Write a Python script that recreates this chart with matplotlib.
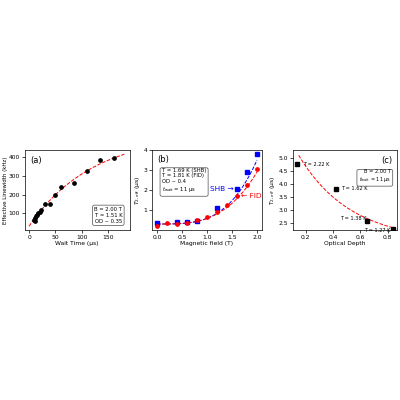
import numpy as np
import matplotlib.pyplot as plt

plt.rcParams['font.size'] = 4.3

# (a) linewidth vs wait time
wait_t = [10, 11, 12, 13, 15, 17, 20, 22, 30, 40, 50, 60, 85, 110, 135, 160]
linewidth = [65, 60, 75, 85, 90, 100, 105, 120, 148, 152, 200, 243, 265, 327, 385, 397]
fit_a = (30., 498., 120.)  # offset, amplitude, tau

# (b) T2 vs field
b_shb = [0.0, 0.4, 0.6, 0.8, 1.2, 1.6, 1.8, 2.0]
t2_shb = [0.35, 0.38, 0.38, 0.45, 1.1, 2.05, 2.88, 3.8]
b_fid = [0.0, 0.2, 0.4, 0.6, 0.8, 1.0, 1.2, 1.4, 1.6, 1.8, 2.0]
t2_fid = [0.22, 0.35, 0.32, 0.35, 0.5, 0.65, 0.9, 1.25, 1.72, 2.25, 3.05]
fit_shb = (0.3, 3.2, 3.5)
fit_fid = (0.3, 2.6, 3.2)

# (c) T2 vs optical depth
od = [0.14, 0.42, 0.65, 0.84]
t2_od = [4.75, 3.82, 2.58, 2.30]
temps = ['T = 2.22 K', 'T = 1.62 K', 'T = 1.38 K', 'T = 1.27 K']
fit_c = (1.8, 3.3, 0.38)

fig = plt.figure(figsize=(4, 4), dpi=100)
box = dict(boxstyle='round,pad=0.35', fc='white', ec='0.3', lw=0.5)

ax1 = fig.add_axes([0.062, 0.425, 0.262, 0.2])
t = np.linspace(0, 180, 100)
ax1.plot(t, fit_a[0] + fit_a[1]*(1 - np.exp(-t/fit_a[2])), 'r--', lw=0.7)
ax1.plot(wait_t, linewidth, 'ko', ms=2.4)
ax1.set_xlabel('Wait Time (μs)', labelpad=1)
ax1.set_ylabel('Effective Linewidth (kHz)', labelpad=0.5, fontsize=3.9)
ax1.set_xlim(-8, 190)
ax1.set_ylim(10, 440)
ax1.set_xticks([0, 50, 100, 150])
ax1.set_yticks([100, 200, 300, 400])
ax1.text(0.05, 0.93, '(a)', transform=ax1.transAxes, fontsize=6, va='top')
ax1.text(0.93, 0.08, 'B = 2.00 T\nT = 1.51 K\nOD ~ 0.35', transform=ax1.transAxes,
         ha='right', va='bottom', bbox=box, fontsize=3.8)

ax2 = fig.add_axes([0.38, 0.425, 0.275, 0.2])
b = np.linspace(0, 2, 100)
ax2.plot(b, fit_shb[0] + fit_shb[1]*(b/2)**fit_shb[2], 'b--', lw=0.7)
ax2.plot(b, fit_fid[0] + fit_fid[1]*(b/2)**fit_fid[2], 'r--', lw=0.7)
ax2.plot(b_shb, t2_shb, 'bs', ms=2.4)
ax2.plot(b_fid, t2_fid, 'ro', ms=2.4)
ax2.set_xlabel('Magnetic field (T)', labelpad=1)
ax2.set_ylabel(r'$T_{2,\mathrm{eff}}$ (μs)', labelpad=1)
ax2.set_xlim(-0.1, 2.1)
ax2.set_ylim(0, 4)
ax2.set_yticks([1, 2, 3, 4])
ax2.text(0.05, 0.94, '(b)', transform=ax2.transAxes, fontsize=6, va='top')
ax2.text(0.09, 0.78, 'T = 1.69 K (SHB)\nT = 1.81 K (FID)\nOD ~ 0.4\n$t_{\\mathrm{wait}}$ = 11 μs',
         transform=ax2.transAxes, va='top', bbox=box, fontsize=3.8)
ax2.text(1.54, 2.05, 'SHB →', color='b', ha='right', va='center', fontsize=5.3)
ax2.text(1.68, 1.68, '← FID', color='r', ha='left', va='center', fontsize=5.3)

ax3 = fig.add_axes([0.733, 0.425, 0.26, 0.2])
x = np.linspace(0.15, 0.84, 100)
ax3.plot(x, fit_c[0] + fit_c[1]*np.exp(-(x - 0.15)/fit_c[2]), 'r--', lw=0.7)
ax3.plot(od, t2_od, 'ks', ms=2.6)
offs = [(0.04, 0.0), (0.04, 0.0), (-0.2, 0.1), (-0.21, -0.05)]
for xi, yi, lab, (dx, dy) in zip(od, t2_od, temps, offs):
    ax3.text(xi + dx, yi + dy, lab, fontsize=3.6, va='center')
ax3.set_xlabel('Optical Depth', labelpad=1)
ax3.set_ylabel(r'T$_{2,eff}$ (μs)', labelpad=1)
ax3.set_xlim(0.11, 0.87)
ax3.set_ylim(2.25, 5.3)
ax3.set_yticks([2.5, 3.0, 3.5, 4.0, 4.5, 5.0])
ax3.text(0.95, 0.92, '(c)', transform=ax3.transAxes, fontsize=6, ha='right', va='top')
ax3.text(0.94, 0.76, 'B = 2.00 T\n$t_{\\mathrm{wait}}$ = 11 μs', transform=ax3.transAxes,
         ha='right', va='top', bbox=box, fontsize=3.6)

for ax in (ax1, ax2, ax3):
    ax.tick_params(length=2, width=0.5, pad=1.5)
    for s in ax.spines.values():
        s.set_linewidth(0.5)

fig.savefig('out.png', dpi=100)
